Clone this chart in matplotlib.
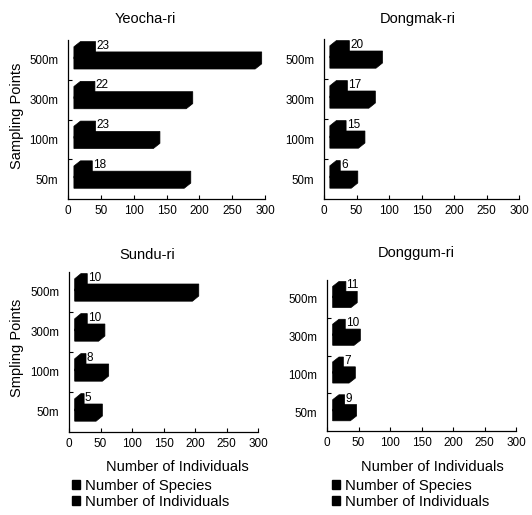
import matplotlib
matplotlib.use("Agg")
import matplotlib.pyplot as plt
from matplotlib.patches import Polygon, Patch
from matplotlib.ticker import FixedLocator

plt.rcParams["font.family"] = ["Liberation Sans", "DejaVu Sans"]

# sampling points, top to bottom
points = ["500m", "300m", "100m", "50m"]

sites = ["Yeocha-ri", "Dongmak-ri", "Sundu-ri", "Donggum-ri"]
ylabels = ["Sampling Points", "", "Smpling Points", ""]

species_yeocha = [23, 22, 23, 18]
species_dongmak = [20, 17, 15, 6]
species_sundu = [10, 10, 8, 5]
species_donggum = [11, 10, 7, 9]

indiv_yeocha = [276, 171, 121, 168]
indiv_dongmak = [71, 60, 44, 33]
indiv_sundu = [187, 38, 44, 34]
indiv_donggum = [29, 34, 26, 28]

species = [species_yeocha, species_dongmak, species_sundu, species_donggum]
individuals = [indiv_yeocha, indiv_dongmak, indiv_sundu, indiv_donggum]

W, H = 532, 515
# axes boxes in pixels: left, right, top, bottom
boxes = [(68, 265, 40, 199), (324, 519, 39, 199),
         (69, 258, 272, 432), (327, 516, 280, 431)]
title_pos = [(145, 19), (418, 19), (147, 255), (416, 253)]

X0 = 9       # bars start a little off the axis
DX = 10      # depth of the 3D box along x
DY = 0.13    # depth of the 3D box along y
BH = 0.30    # face height


def box3d(ax, start, length, y0):
    pts = [(start, y0), (start + length, y0),
           (start + length + DX, y0 + DY),
           (start + length + DX, y0 + BH + DY),
           (start + DX, y0 + BH + DY), (start, y0 + BH)]
    ax.add_patch(Polygon(pts, closed=True, facecolor="black",
                         edgecolor="black", linewidth=0.5))


fig = plt.figure(figsize=(W / 100, H / 100), dpi=100)

for k, (l, r, t, b) in enumerate(boxes):
    ax = fig.add_axes([l / W, 1 - b / H, (r - l) / W, (b - t) / H])
    n = len(points)
    for i, name in enumerate(points):
        c = n - 1 - i
        box3d(ax, X0, individuals[k][i], c - 0.23)
        box3d(ax, X0, species[k][i], c + 0.03)
        ax.text(X0 + species[k][i] + DX + 1, c + 0.36, str(species[k][i]),
                fontsize=8.5, ha="left", va="center")

    ax.set_xlim(0, 300)
    ax.set_ylim(-0.5, n - 0.5)
    ax.set_xticks(range(0, 301, 50))
    ax.set_yticks(range(n))
    ax.set_yticklabels(points[::-1])
    ax.yaxis.set_minor_locator(FixedLocator([0.5, 1.5, 2.5]))
    ax.tick_params(axis="y", which="major", length=0, pad=7, labelsize=8.3)
    ax.tick_params(axis="y", which="minor", direction="in", length=3, width=0.8)
    ax.tick_params(axis="x", direction="in", length=3, width=0.8, pad=4,
                   labelsize=8.5)
    for side in ("top", "right"):
        ax.spines[side].set_visible(False)
    for side in ("left", "bottom"):
        ax.spines[side].set_linewidth(0.9)

    tx, ty = title_pos[k]
    fig.text(tx / W, 1 - ty / H, sites[k], fontsize=10.5,
             ha="center", va="center")
    if ylabels[k]:
        cy = (t + b) / 2 - 4
        fig.text(17 / W, 1 - cy / H, ylabels[k], fontsize=10.5,
                 rotation=90, ha="center", va="center")

# bottom row: axis title and legend
handles = [Patch(facecolor="black", edgecolor="black"),
           Patch(facecolor="black", edgecolor="black")]
labels = ["Number of Species", "Number of Individuals"]
for xc, lx in [(177, 72), (432, 332)]:
    fig.text(xc / W, 1 - 467 / H, "Number of Individuals", fontsize=10.5,
             ha="center", va="center")
    fig.legend(handles, labels, loc="upper left",
               bbox_to_anchor=(lx / W, 1 - 479 / H), frameon=False,
               fontsize=10.7, handlelength=0.55, handleheight=0.55,
               handletextpad=0.3, labelspacing=0.15, borderpad=0,
               borderaxespad=0)

fig.savefig("out.png", dpi=100)
